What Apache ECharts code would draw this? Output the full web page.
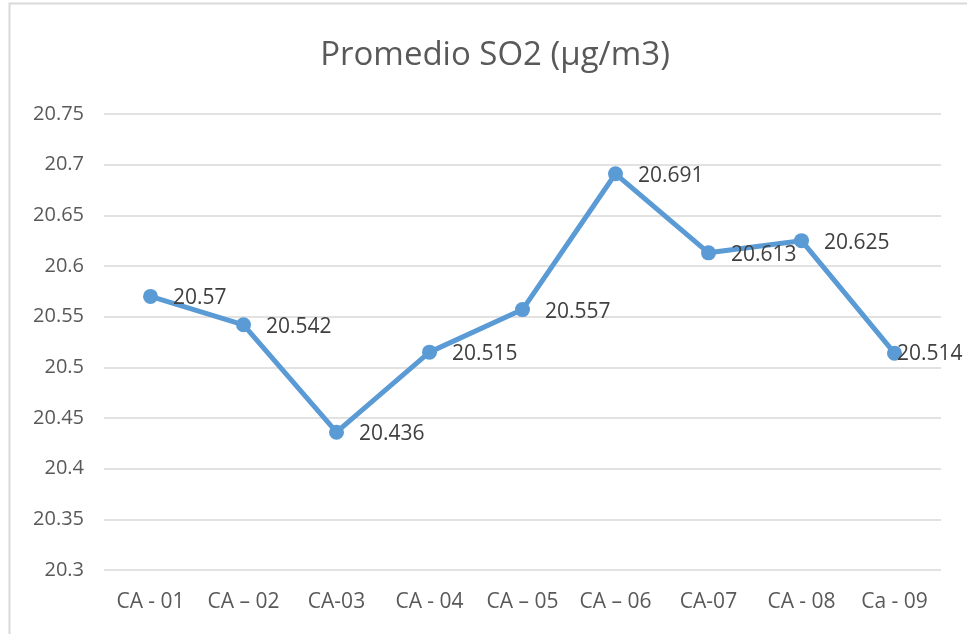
<!DOCTYPE html>
<html>
<head>
<meta charset="utf-8">
<script src="https://cdn.jsdelivr.net/npm/echarts@6/dist/echarts.min.js"></script>
<style>
html,body{margin:0;padding:0;background:#fff;}
#c{width:967px;height:634px;}
</style>
</head>
<body>
<div id="c"></div>
<script>
const categories = ["CA - 01", "CA \u2013 02", "CA-03", "CA - 04", "CA \u2013 05", "CA \u2013 06", "CA-07", "CA - 08", "Ca - 09"];
const values = [20.57, 20.542, 20.436, 20.515, 20.557, 20.691, 20.613, 20.625, 20.514];
const yMin = 20.3, yMax = 20.75, yStep = 0.05;
const titleText = "Promedio SO2 (\u00b5g/m3)";

const font = "'Open Sans', sans-serif";
const seriesData = values.map((v, i) => i === values.length - 1
  ? {value: v, label: {offset: [-20, 1]}}
  : {value: v});

const chart = echarts.init(document.getElementById('c'), null, {renderer: 'canvas'});
chart.setOption({
  backgroundColor: '#ffffff',
  animation: false,
  graphic: [{
    type: 'rect',
    shape: {x: 9.5, y: 3.5, width: 1000, height: 700},
    style: {fill: 'none', stroke: '#d9d9d9', lineWidth: 2},
    silent: true, z: -1
  }],
  title: {
    text: titleText,
    left: 490,
    textAlign: 'center',
    top: 34,
    textStyle: {fontFamily: font, fontSize: 33, fontWeight: 'normal', color: '#595959'}
  },
  grid: {left: 104, right: 26, top: 114, bottom: 64},
  xAxis: {
    type: 'category',
    data: categories,
    boundaryGap: true,
    axisLine: {show: false},
    axisTick: {show: false},
    axisLabel: {fontFamily: font, fontSize: 21, color: '#595959', margin: 22, interval: 0}
  },
  yAxis: {
    type: 'value',
    min: yMin, max: yMax, interval: yStep,
    axisLine: {show: false},
    axisTick: {show: false},
    splitLine: {lineStyle: {color: '#d9d9d9', width: 1.5}},
    axisLabel: {
      fontFamily: font, fontSize: 20, color: '#595959', margin: 20,
      formatter: v => String(parseFloat(v.toFixed(2)))
    }
  },
  series: [{
    type: 'line',
    data: seriesData,
    symbol: 'circle',
    symbolSize: 15,
    lineStyle: {color: '#5B9BD5', width: 5},
    itemStyle: {color: '#5B9BD5'},
    label: {
      show: true, position: 'right', distance: 15,
      offset: [0, 2],
      fontFamily: font, fontSize: 21, color: '#404040',
      formatter: p => String(p.value)
    }
  }]
});
</script>
</body>
</html>
